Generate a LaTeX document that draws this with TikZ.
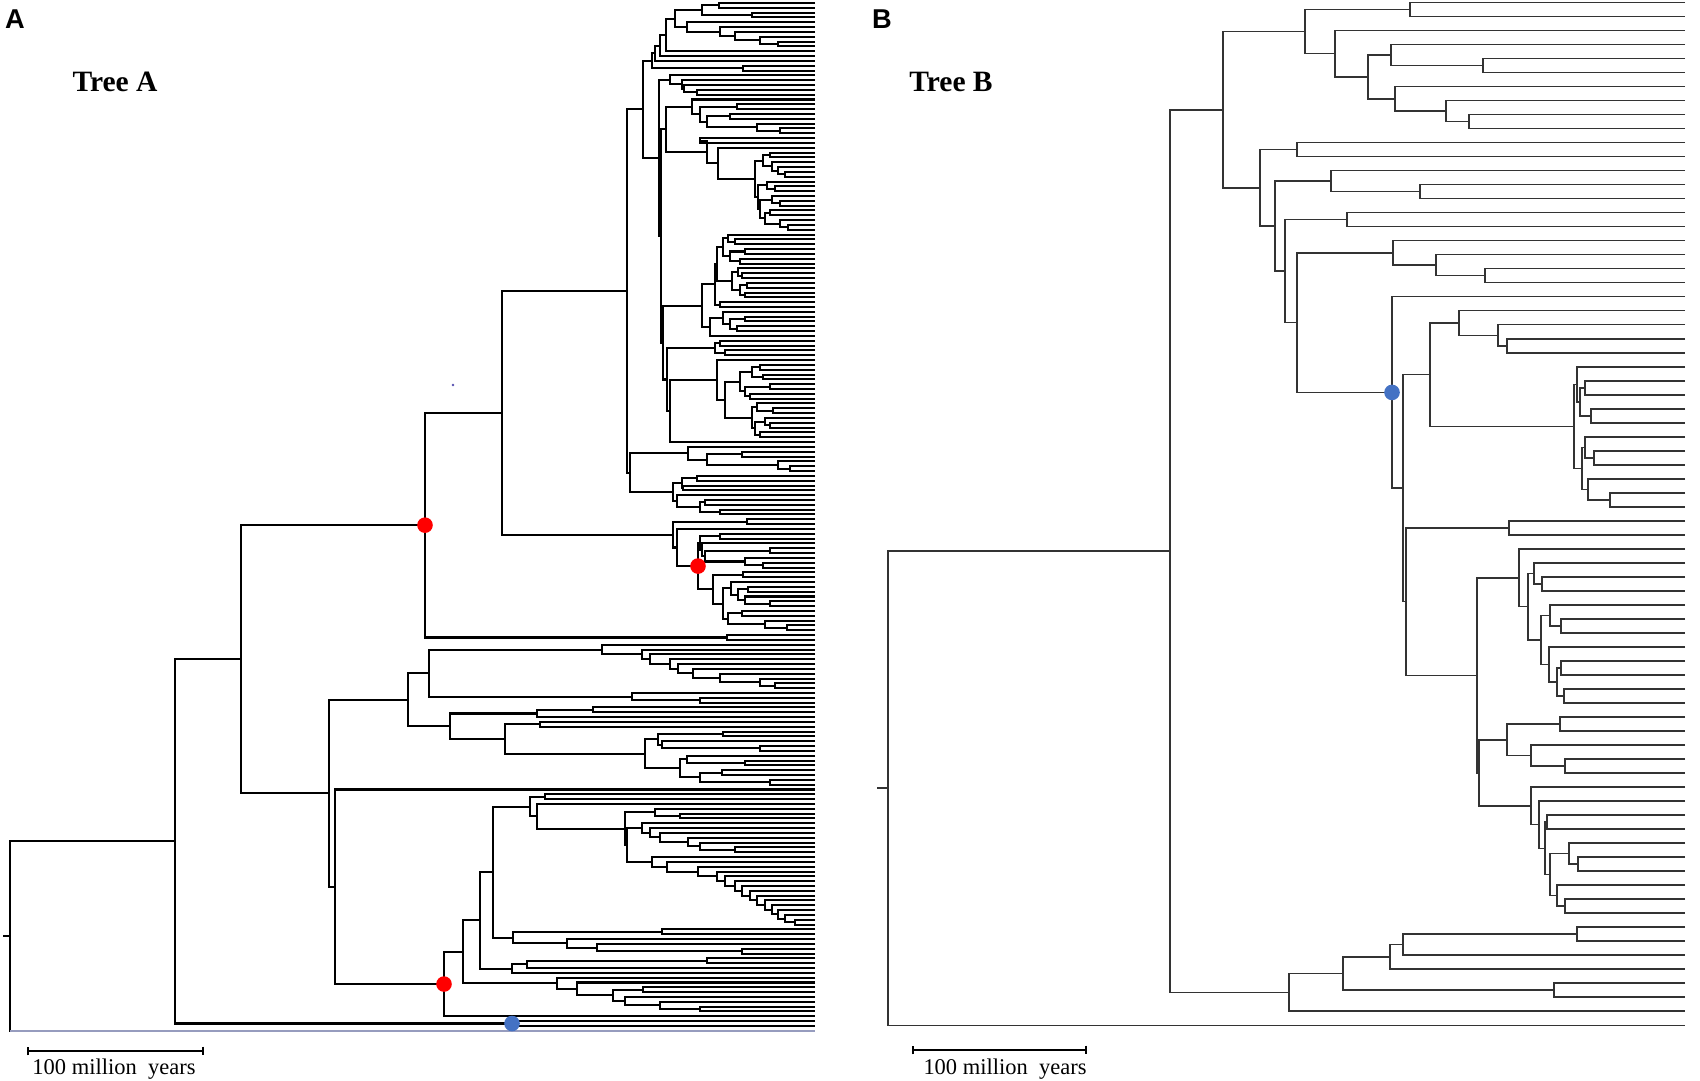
\documentclass[tikz,border=0pt]{standalone}
\usepackage{fontspec}
\setmainfont{Liberation Serif}
\newfontfamily\panelfont{Liberation Sans}
\usetikzlibrary{calc,arrows.meta}

\definecolor{dotred}{RGB}{255,0,0}
\definecolor{dotblue}{RGB}{68,114,196}
\definecolor{outgrey}{RGB}{150,156,190}

\tikzset{
  branch a/.style={line width=1.15pt, black},
  branch b/.style={line width=0.85pt, black!80},
  outgroup/.style={line width=1.15pt, outgrey},
  scalebar/.style={line width=0.9pt, {Bar[width=5pt]}-{Bar[width=5pt]}},
  scaletext/.style={font=\fontsize{12.8}{14}\selectfont, inner sep=0pt},
  treelabel/.style={font=\fontsize{16.8}{18}\selectfont\bfseries, inner sep=0pt},
  panel/.style={font=\panelfont\fontsize{15.5}{17}\selectfont\bfseries, inner sep=0pt},
}

% postfix tree builder: \Tip adds the next leaf, \Jn{x} joins the two last subtrees at x
\newcount\tipno
\newcount\nodeno
\def\nodestack{}
\def\popnodeaux#1,#2\relax{\gdef\poppednode{#1}\gdef\nodestack{#2}}
\newcommand\popnode{\expandafter\popnodeaux\nodestack\relax}
\newcommand\Tip{%
  \global\advance\tipno by 1
  \coordinate (\treepre t\the\tipno) at (\tipx,{\tipy+(\the\tipno-1)*\tipdy});
  \xdef\nodestack{\treepre t\the\tipno,\nodestack}}
\newcommand\Jn[1]{%
  \popnode\let\lowchild\poppednode
  \popnode\let\upchild\poppednode
  \global\advance\nodeno by 1
  \coordinate (\treepre m) at ($(\upchild)!0.5!(\lowchild)$);
  \coordinate (\treepre n\the\nodeno) at (#1,0 |- \treepre m);
  \draw[branch] (\upchild) -| (\treepre n\the\nodeno) |- (\lowchild);
  \xdef\nodestack{\treepre n\the\nodeno,\nodestack}}
\newcommand\Ch[1]{\Tip\Tip\Jn{#1}}
\newcommand\keepas[1]{\coordinate (#1) at (\treepre n\the\nodeno);}

\begin{document}
\begin{tikzpicture}[x=0.02cm, y=-0.02cm]
\useasboundingbox (0,0) rectangle (1700,1080);

%%% Tree A
\def\treepre{a}\def\tipx{815}\def\tipy{3}\def\tipdy{4.825}
\global\tipno=0 \global\nodeno=0 \gdef\nodestack{}
\tikzset{branch/.style={branch a}}
% upper clade
\Ch{719}\Ch{752}\Jn{702}
\Tip\Tip\Tip\Tip\Ch{778}\Jn{760}\Jn{735}\Jn{720}\Jn{687}
\Jn{675}\Tip\Jn{666}\Tip\Jn{660}\Tip\Jn{655}\Ch{743}\Jn{652}
\Tip\Tip\Tip\Ch{697}\Jn{684}\Jn{682}\Jn{670}
\Tip\Ch{737}\Ch{730}\Tip\Ch{780}\Jn{757}\Jn{707}\Jn{700}\Jn{692}
\Ch{700}\Tip\Ch{770}\Tip\Tip\Ch{785}\Jn{778}\Jn{772}\Jn{763}
\Tip\Ch{775}\Jn{767}\Tip\Ch{780}\Jn{772}\Ch{770}\Tip\Ch{788}\Jn{780}\Jn{765}\Jn{760}\Jn{758}
\Jn{755}\Jn{718}\Jn{707}\Jn{666}
\Tip\Ch{735}\Jn{728}\Ch{745}\Ch{740}\Jn{730}\Jn{723}
\Tip\Ch{742}\Jn{738}\Ch{747}\Ch{745}\Jn{740}\Jn{732}
\Jn{717}\Ch{720}\Jn{715}
\Tip\Ch{745}\Ch{737}\Jn{730}\Jn{723}\Tip\Jn{710}\Jn{702}
\Ch{720}\Ch{725}\Jn{715}
\Tip\Ch{760}\Ch{763}\Jn{752}\Ch{770}\Ch{750}\Jn{745}\Jn{740}
\Tip\Ch{773}\Jn{757}\Tip\Ch{770}\Jn{765}\Ch{760}\Jn{755}\Jn{752}
\Jn{725}\Jn{717}\Tip\Jn{670}\Jn{667}\Jn{663}
\Jn{661}\Jn{659}\Jn{643}
\Tip\Ch{742}\Tip\Ch{790}\Jn{778}\Jn{707}\Jn{688}
\Ch{697}\Ch{683}\Jn{682}\Tip\Ch{705}\Ch{720}\Jn{700}\Jn{677}\Jn{673}
\Jn{630}\Jn{627}
\Ch{747}\Tip
\Ch{720}\Tip\Ch{770}\Tip\Ch{763}\Jn{745}\Jn{705}\Jn{702}\Jn{700}
\Ch{743}\Tip\Ch{748}\Tip\Ch{770}\Jn{745}\Jn{738}\Jn{731}\Ch{742}\Tip\Ch{787}\Jn{765}\Jn{728}\Jn{723}\Jn{713}
\Jn{698}\keepas{redtwo}\Jn{677}\Jn{673}
\Jn{502}\Ch{727}\Jn{425}\keepas{redone}
% lower clade
\Tip\Tip\Tip\Tip\Tip\Tip\Tip\Tip\Ch{775}\Jn{760}\Jn{720}\Jn{693}\Jn{678}\Jn{670}\Jn{650}\Jn{642}\Jn{602}
\Tip\Ch{700}\Jn{632}\Jn{429}
\Ch{593}\Tip\Jn{537}\Ch{540}
\Ch{723}\Tip\Ch{760}\Jn{662}\Jn{658}
\Tip\Ch{745}\Jn{687}\Ch{722}\Ch{770}\Jn{700}\Jn{680}
\Jn{645}\Jn{505}\Jn{450}\Jn{408}
\Tip
\Ch{545}\Tip\Tip\Ch{680}\Jn{655}
\Tip\Tip\Tip\Tip\Tip\Ch{735}\Jn{700}\Jn{688}\Jn{660}\Jn{650}\Jn{642}
\Tip\Tip\Tip\Tip\Tip\Tip\Tip\Tip\Tip\Tip\Tip\Tip\Tip\Ch{795}
\Jn{785}\Jn{778}\Jn{772}\Jn{765}\Jn{757}\Jn{750}\Jn{742}\Jn{735}\Jn{725}\Jn{717}\Jn{698}\Jn{667}\Jn{652}
\Jn{627}\Jn{625}\Jn{537}\Jn{530}
\Ch{662}\Tip\Tip\Ch{742}\Jn{597}\Jn{567}\Jn{513}\Jn{493}
\Ch{707}\Tip\Jn{527}\Tip\Jn{512}\Jn{480}
\Tip\Tip\Ch{643}\Tip\Tip\Ch{700}\Jn{660}\Jn{625}\Jn{613}\Jn{577}\Jn{557}\Jn{463}
\Tip\Jn{444}\keepas{redthree}
\Jn{335}\Jn{329}\Jn{241}
\Ch{512}\keepas{blueA}\Jn{175}\Tip\Jn{10}\keepas{rootA}

\coordinate (rootAtick) at (3,0 |- rootA);
\draw[branch] (rootA) -- (rootAtick);
\draw[outgroup] (rootA |- at214) -- (at214);

%%% Tree B
\def\treepre{b}\def\tipx{1685}\def\tipy{2.5}\def\tipdy{14.01}
\global\tipno=0 \global\nodeno=0 \gdef\nodestack{}
\tikzset{branch/.style={branch b}}
\Ch{1410}\Tip\Tip\Ch{1483}\Jn{1391}\Tip\Tip\Ch{1469}\Jn{1446}\Jn{1395}\Jn{1368}\Jn{1335}\Jn{1305}
\Ch{1297}
\Tip\Ch{1420}\Jn{1331}
\Ch{1347}
\Tip\Tip\Ch{1485}\Jn{1436}\Jn{1393}
\Tip
\Tip\Tip\Ch{1507}\Jn{1498}\Jn{1459}
\Tip\Ch{1585}\Ch{1591}\Jn{1580}\Jn{1577}
\Tip\Ch{1594}\Jn{1585}\Tip\Ch{1610}\Jn{1588}\Jn{1582}
\Jn{1574}\Jn{1430}
\Ch{1509}
\Tip
\Tip\Ch{1542}\Jn{1534}
\Tip\Ch{1561}\Jn{1550}
\Tip\Ch{1561}\Ch{1564}\Jn{1557}\Jn{1549}
\Jn{1541}\Jn{1528}\Jn{1519}
\Ch{1560}\Tip\Ch{1565}\Jn{1531}\Jn{1507}
\Tip\Tip\Ch{1547}
\Tip\Ch{1578}\Jn{1569}
\Tip\Ch{1565}\Jn{1557}
\Jn{1550}\Jn{1545}\Jn{1539}\Jn{1531}
\Jn{1479}\Jn{1477}\Jn{1406}\Jn{1403}
\Jn{1392}\keepas{blueB}
\Jn{1297}\Jn{1285}\Jn{1275}\Jn{1260}\Jn{1223}
\Ch{1577}\Tip\Jn{1403}\Tip\Jn{1390}\Ch{1554}\Jn{1343}\Tip\Jn{1289}
\Jn{1170}\Tip\Jn{888}\keepas{rootB}

\coordinate (rootBtick) at (877,0 |- rootB);
\draw[branch] (rootB) -- (rootBtick);

%%% marks
\fill[dotred] (redone) circle (7.8);
\fill[dotred] (redtwo) circle (7.8);
\fill[dotred] (redthree) circle (7.8);
\fill[dotblue] (blueA) circle (7.8);
\fill[dotblue] (blueB) circle (7.8);
\coordinate (speck) at (453,385);
\fill[dotblue!70!violet] (speck) circle (1.3);

%%% labels
\node[panel] (labA) at (15,19) {A};
\node[panel] (labB) at (882,19) {B};
\node[treelabel] (treeA) at (115,82) {Tree A};
\node[treelabel] (treeB) at (951,82) {Tree B};

%%% scale bars
\coordinate (sa1) at (27,1051);
\coordinate (sa2) at (204,1051);
\draw[scalebar] (sa1) -- (sa2);
\node[scaletext] (sla) at (114,1069) {100 million\ \ years};
\coordinate (sb1) at (912,1050);
\coordinate (sb2) at (1087,1050);
\draw[scalebar] (sb1) -- (sb2);
\node[scaletext] (slb) at (1005,1069) {100 million\ \ years};
\end{tikzpicture}
\end{document}
